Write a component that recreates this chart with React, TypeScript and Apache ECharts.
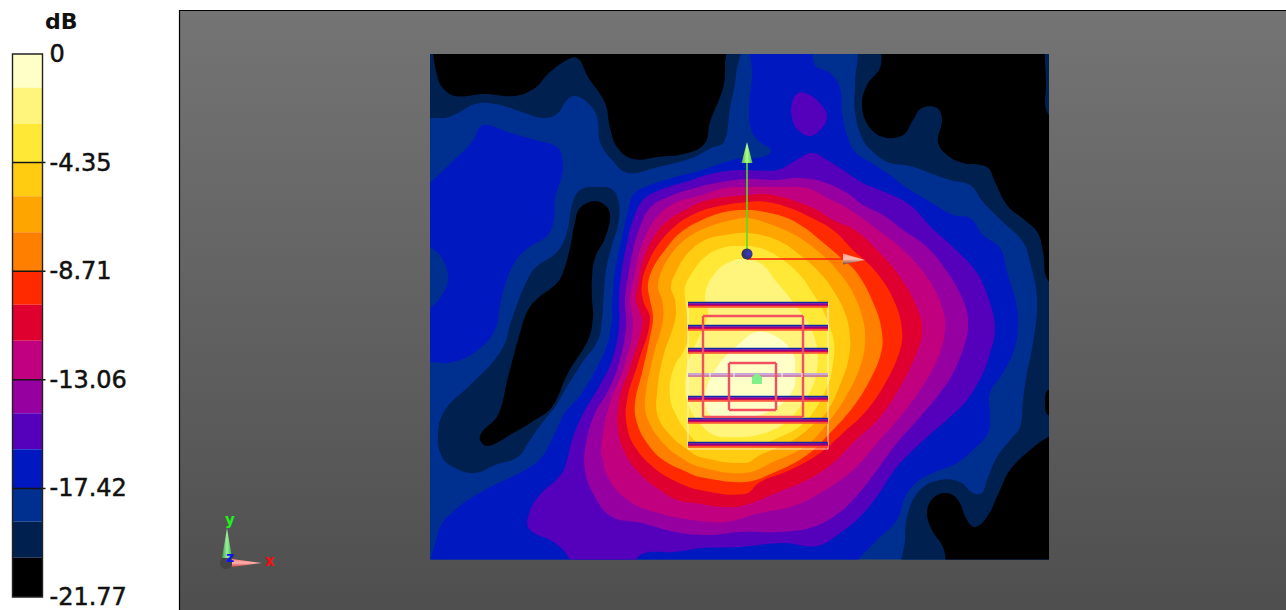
import React, { useEffect, useRef } from "react";
import * as echarts from "echarts";

type P = number[];

// colour scale, 0 dB downward
const bandColors = ["#FFFFC8", "#FFF47C", "#FFE936", "#FFCC11", "#FFA500", "#FF7F00", "#FF2A00", "#E00030", "#C0007F", "#9600A0", "#5500BB", "#0018C0", "#00308F", "#002050", "#000000"];
const bandEdges = [0, -1.35, -2.8, -4.35, -5.7, -7.15, -8.71, -10.05, -11.5, -13.06, -14.4, -15.85, -17.42, -18.75, -20.2, -21.77];
const tickValues = [0, -4.35, -8.71, -13.06, -17.42, -21.77];
const tickLabels = ["0", "-4.35", "-8.71", "-13.06", "-17.42", "-21.77"];

// contour outlines, in plane coordinates
const fullPlane: P[] = [[400, 30], [1080, 30], [1080, 590], [400, 590]];
const navyTopLeft: P[] = [[410, 35], [736, 35], [736, 75], [730, 108], [724, 142], [711, 148], [692, 158], [658, 167], [628, 173], [612, 160], [600, 142], [597, 117], [588, 103], [575, 96], [567, 100], [557, 114], [543, 118], [522, 112], [495, 104], [475, 104], [458, 113], [442, 118], [410, 111]];
const navyIsland: P[] = [[572, 205], [580, 190], [598, 187], [613, 190], [619, 205], [618, 225], [612, 245], [606, 270], [603, 305], [602, 320], [598, 340], [582, 363], [565, 390], [555, 407], [542, 423], [528, 443], [518, 457], [495, 465], [475, 473], [455, 468], [442, 457], [438, 433], [445, 410], [468, 387], [492, 363], [505, 343], [510, 325], [518, 302], [525, 285], [535, 268], [557, 252], [567, 232]];
const navyRight: P[] = [[866, 35], [857, 65], [855, 88], [855, 112], [862, 138], [873, 152], [890, 163], [910, 166], [930, 173], [950, 180], [970, 185], [983, 202], [1003, 222], [1023, 242], [1030, 262], [1037, 300], [1033, 343], [1027, 373], [1023, 400], [1020, 427], [1010, 440], [997, 457], [987, 480], [982, 493], [973, 493], [960, 482], [940, 480], [920, 490], [908, 513], [905, 540], [905, 580], [1080, 580], [1080, 35]];
const blackTopLeft: P[] = [[432, 35], [433, 53], [437, 75], [442, 87], [455, 96], [485, 94], [515, 96], [535, 88], [547, 75], [562, 63], [577, 58], [588, 77], [605, 103], [610, 128], [617, 147], [633, 159], [658, 157], [688, 153], [705, 143], [710, 122], [723, 88], [725, 65], [723, 35]];
const blackIsland: P[] = [[575, 222], [580, 208], [595, 201], [607, 207], [610, 218], [605, 238], [595, 258], [592, 278], [592, 300], [593, 317], [588, 340], [568, 373], [552, 407], [535, 420], [515, 432], [488, 446], [480, 440], [482, 432], [498, 415], [508, 377], [520, 333], [528, 310], [538, 298], [555, 285], [562, 275], [570, 248]];
const blackTopRight: P[] = [[887, 35], [880, 68], [867, 85], [862, 105], [868, 125], [883, 137], [903, 135], [913, 120], [922, 108], [937, 108], [942, 120], [938, 142], [947, 155], [963, 163], [987, 167], [995, 182], [1007, 205], [1027, 222], [1038, 233], [1043, 252], [1049, 282], [1080, 300], [1080, 35]];
const blackBottomRight: P[] = [[1080, 420], [1048, 437], [1030, 450], [1010, 470], [1000, 490], [987, 517], [975, 527], [967, 520], [958, 500], [947, 493], [933, 498], [927, 513], [932, 530], [943, 547], [953, 575], [1080, 580]];
const blackRightNotch: P[] = [[1060, 395], [1048, 390], [1045, 403], [1048, 415], [1060, 412]];
const navyRightSliver: P[] = [[1047, 35], [1046, 85], [1047, 112], [1060, 118], [1060, 35]];
const blueLeft: P[] = [[405, 205], [430, 183], [452, 162], [472, 142], [480, 127], [487, 125], [508, 132], [535, 140], [557, 147], [562, 158], [562, 175], [555, 198], [554, 218], [548, 235], [528, 248], [515, 262], [505, 285], [500, 305], [495, 330], [478, 350], [453, 362], [430, 362], [405, 362]];
const blueBump: P[] = [[410, 236], [430, 247], [442, 258], [448, 278], [442, 295], [430, 308], [410, 318]];
const blueCentral: P[] = [[633, 195], [645, 187], [672, 178], [702, 170], [740, 158], [763, 157], [771, 150], [760, 142], [752, 132], [749, 112], [752, 75], [753, 35], [808, 35], [815, 65], [830, 73], [840, 88], [842, 112], [847, 135], [855, 152], [870, 162], [887, 173], [907, 188], [927, 200], [953, 215], [970, 218], [983, 235], [1000, 248], [1007, 272], [1015, 298], [1018, 320], [1015, 347], [1003, 373], [990, 393], [990, 417], [988, 433], [973, 450], [957, 463], [933, 473], [917, 482], [905, 497], [897, 520], [877, 540], [855, 565], [850, 585], [438, 585], [438, 533], [455, 510], [485, 490], [525, 470], [542, 457], [555, 433], [565, 413], [582, 393], [597, 367], [607, 345], [612, 320], [612, 305], [615, 270], [622, 237], [628, 210]];
const violetMain: P[] = [[633, 220], [643, 200], [660, 190], [685, 182], [715, 173], [740, 170], [777, 170], [793, 162], [812, 153], [827, 160], [843, 170], [863, 183], [887, 193], [910, 205], [932, 228], [953, 247], [977, 273], [990, 303], [995, 330], [990, 353], [983, 373], [967, 400], [950, 417], [927, 437], [903, 460], [893, 472], [878, 495], [860, 517], [840, 533], [817, 546], [783, 543], [740, 547], [702, 548], [675, 552], [645, 553], [635, 562], [630, 585], [575, 585], [570, 560], [555, 543], [530, 530], [528, 517], [538, 497], [558, 478], [565, 467], [573, 437], [585, 410], [600, 385], [612, 360], [619, 327], [619, 300], [621, 275], [626, 247]];
const violetIsland: P[] = [[792, 103], [798, 93], [810, 95], [823, 107], [827, 117], [822, 128], [810, 136], [798, 130], [792, 118]];
const purpleLevel: P[] = [[633, 250], [640, 227], [650, 208], [668, 197], [695, 188], [722, 182], [748, 179], [773, 180], [800, 178], [823, 182], [847, 193], [863, 205], [883, 215], [903, 230], [927, 247], [948, 273], [963, 300], [968, 320], [965, 343], [953, 373], [940, 393], [920, 417], [897, 443], [877, 470], [860, 492], [840, 512], [813, 527], [780, 532], [740, 532], [708, 535], [675, 532], [642, 523], [612, 517], [595, 497], [585, 470], [586, 443], [595, 413], [607, 393], [618, 367], [626, 327], [625, 300], [628, 277]];
const magentaLevel: P[] = [[638, 257], [647, 233], [657, 217], [675, 203], [702, 195], [725, 188], [748, 187], [780, 187], [807, 188], [827, 198], [847, 208], [878, 230], [903, 250], [927, 277], [942, 307], [945, 330], [937, 360], [920, 390], [900, 417], [877, 443], [853, 470], [817, 495], [790, 507], [760, 513], [725, 522], [692, 520], [658, 513], [632, 503], [612, 484], [602, 457], [603, 433], [610, 403], [623, 370], [633, 327], [630, 300], [633, 283]];
const crimsonLevel: P[] = [[643, 260], [652, 240], [665, 223], [685, 210], [708, 200], [748, 195], [773, 195], [813, 208], [833, 220], [855, 230], [877, 250], [900, 277], [918, 310], [922, 333], [915, 357], [900, 387], [880, 417], [853, 443], [833, 463], [807, 480], [783, 490], [745, 505], [725, 507], [695, 503], [677, 500], [660, 490], [643, 477], [627, 457], [618, 430], [620, 397], [630, 367], [642, 323], [636, 300], [638, 285]];
const redLevel: P[] = [[648, 263], [658, 245], [673, 228], [692, 215], [715, 207], [748, 202], [767, 202], [790, 208], [812, 218], [833, 230], [853, 250], [877, 273], [895, 303], [902, 330], [900, 350], [887, 380], [867, 410], [843, 433], [820, 453], [790, 470], [760, 482], [745, 494], [700, 490], [673, 480], [653, 467], [635, 447], [627, 427], [627, 400], [638, 363], [650, 320], [643, 300], [642, 283]];
const orangeLevel: P[] = [[653, 268], [665, 250], [680, 233], [702, 220], [725, 212], [748, 210], [765, 212], [787, 218], [805, 228], [820, 240], [840, 257], [857, 273], [875, 307], [882, 333], [881, 353], [870, 380], [853, 407], [830, 433], [807, 455], [773, 473], [745, 482], [700, 477], [687, 472], [663, 460], [647, 443], [637, 423], [635, 403], [642, 373], [650, 337], [653, 317], [650, 300], [648, 285]];
const amberLevel: P[] = [[662, 270], [672, 253], [687, 238], [708, 227], [732, 220], [748, 218], [780, 228], [800, 238], [820, 253], [837, 270], [853, 293], [863, 320], [865, 343], [860, 367], [848, 393], [830, 420], [807, 445], [773, 462], [745, 473], [700, 467], [680, 457], [663, 443], [648, 420], [645, 400], [653, 357], [663, 320], [662, 300], [658, 287]];
const goldLevel: P[] = [[677, 270], [688, 253], [705, 240], [725, 235], [748, 233], [777, 240], [800, 255], [820, 273], [833, 290], [845, 313], [850, 337], [849, 357], [842, 380], [828, 410], [813, 425], [790, 442], [760, 455], [745, 463], [700, 457], [688, 450], [672, 437], [658, 417], [657, 393], [663, 357], [675, 320], [675, 300], [671, 287]];
const yellowLevel: P[] = [[692, 273], [705, 257], [722, 248], [738, 246], [760, 248], [780, 258], [800, 275], [812, 292], [820, 305], [827, 320], [834, 343], [832, 370], [827, 387], [807, 420], [780, 437], [747, 447], [700, 443], [688, 433], [677, 417], [670, 397], [673, 370], [687, 343], [687, 317], [685, 297], [685, 287]];
const paleLevel: P[] = [[705, 295], [715, 273], [732, 261], [748, 259], [763, 265], [775, 280], [793, 302], [813, 333], [817, 370], [803, 403], [773, 430], [723, 437], [703, 427], [687, 400], [687, 367], [693, 350], [708, 315]];
const palestLevel: P[] = [[757, 332], [777, 337], [793, 353], [795, 370], [793, 390], [777, 407], [747, 418], [713, 417], [705, 397], [717, 367], [740, 343]];

// painted in order, lower levels first
const contourLayers: [string, P[]][] = [
  ["#00308F", fullPlane],
  ["#002050", navyTopLeft],
  ["#002050", navyIsland],
  ["#002050", navyRight],
  ["#000000", blackTopLeft],
  ["#000000", blackIsland],
  ["#000000", blackTopRight],
  ["#000000", blackBottomRight],
  ["#000000", blackRightNotch],
  ["#002050", navyRightSliver],
  ["#0018C0", blueLeft],
  ["#00308F", blueBump],
  ["#0018C0", blueCentral],
  ["#5500BB", violetMain],
  ["#5500BB", violetIsland],
  ["#9600A0", purpleLevel],
  ["#C0007F", magentaLevel],
  ["#E00030", crimsonLevel],
  ["#FF2A00", redLevel],
  ["#FF7F00", orangeLevel],
  ["#FFA500", amberLevel],
  ["#FFCC11", goldLevel],
  ["#FFE936", yellowLevel],
  ["#FFF47C", paleLevel],
  ["#FFFFC8", palestLevel],
];

// antenna overlay
const rowYs = [305, 328, 351, 399, 421, 445];
const lightRowY = 375;
const rowXs = [688, 828];
const rowStripes: [number, string, number][] = [[-2.4, "#0A2CA8", 1.8], [-0.9, "#7A00A0", 1.6], [0.6, "#D00850", 1.6], [2, "#FF5030", 1.3]];
const outerPatch = [703, 316, 803, 417];
const innerPatch = [729, 363, 776, 410];
const groundFrame = [688, 303, 828, 449];
const lightRowTicks = [710, 734, 782, 802];
const feedPoint = [757, 379];
const origin = [747, 254];
const yArrow = { tip: [747, 142], base: 163, half: 5.5 };
const xArrow = { tip: [865, 260], base: 843, half: 5.5, y: 259 };

export default function App() {
  const ref = useRef<HTMLDivElement>(null);
  useEffect(() => {
    const chart = echarts.init(ref.current!, undefined, { renderer: "svg" });

    const planeSeries = (renderItem: any, clip = false) => ({
      type: "custom" as const,
      xAxisIndex: 0,
      yAxisIndex: 0,
      coordinateSystem: "cartesian2d",
      silent: true,
      clip,
      data: [[origin[0], origin[1]]],
      renderItem,
    });
    const seg = (api: any, a: P, b: P, stroke: string, lineWidth: number, opacity = 1) => {
      const p = api.coord(a);
      const q = api.coord(b);
      return { type: "line", shape: { x1: p[0], y1: p[1], x2: q[0], y2: q[1] }, style: { stroke, lineWidth, opacity } };
    };
    const rectOutline = (api: any, r: number[], stroke: string, lineWidth: number, opacity = 1) => ({
      type: "group",
      children: [
        seg(api, [r[0], r[1]], [r[2], r[1]], stroke, lineWidth, opacity),
        seg(api, [r[2], r[1]], [r[2], r[3]], stroke, lineWidth, opacity),
        seg(api, [r[2], r[3]], [r[0], r[3]], stroke, lineWidth, opacity),
        seg(api, [r[0], r[3]], [r[0], r[1]], stroke, lineWidth, opacity),
      ],
    });

    const contourSeries = contourLayers.map(([color, pts]) =>
      planeSeries(
        (_: any, api: any) => ({
          type: "polygon",
          shape: { points: pts.map((p) => api.coord(p)), smooth: 0.4 },
          style: { fill: color },
        }),
        true
      )
    );

    const overlaySeries = planeSeries((_: any, api: any) => {
      const children: any[] = [];
      children.push(rectOutline(api, groundFrame, "#FFF6E0", 1.2, 0.8));
      rowYs.forEach((y) => {
        rowStripes.forEach(([dy, color, w]) => {
          children.push(seg(api, [rowXs[0], y + dy], [rowXs[1], y + dy], color, w));
        });
      });
      children.push(seg(api, [rowXs[0], lightRowY - 1], [rowXs[1], lightRowY - 1], "#C8A8D8", 2));
      children.push(seg(api, [rowXs[0], lightRowY + 1], [rowXs[1], lightRowY + 1], "#C060A8", 1.5));
      children.push(rectOutline(api, outerPatch, "#F25060", 2.4));
      children.push(rectOutline(api, innerPatch, "#F25060", 2.4));
      lightRowTicks.forEach((x) => children.push(seg(api, [x, lightRowY - 2], [x, lightRowY + 2], "#FFF8F0", 1)));
      const f = feedPoint;
      children.push({
        type: "polygon",
        shape: { points: [[f[0] - 5, f[1] + 5], [f[0] - 5, f[1] - 2], [f[0], f[1] - 6], [f[0] + 5, f[1] - 2], [f[0] + 5, f[1] + 5]].map((p) => api.coord(p)) },
        style: { fill: "#80F088" },
      });
      // origin arrows
      children.push(seg(api, [origin[0], origin[1]], [origin[0], yArrow.base], "#50E020", 1.6));
      children.push(seg(api, [origin[0], xArrow.y], [xArrow.base, xArrow.y], "#FF2010", 1.6));
      children.push({
        type: "polygon",
        shape: { points: [yArrow.tip, [yArrow.tip[0] - yArrow.half, yArrow.base], [yArrow.tip[0] + yArrow.half, yArrow.base]].map((p) => api.coord(p)) },
        style: { fill: new echarts.graphic.LinearGradient(0, 0, 1, 0, [{ offset: 0, color: "#50B030" }, { offset: 0.5, color: "#B0FF90" }, { offset: 1, color: "#40C040" }]) },
      });
      children.push({
        type: "polygon",
        shape: { points: [xArrow.tip, [xArrow.base, xArrow.y + xArrow.half], [xArrow.base, xArrow.y - xArrow.half]].map((p) => api.coord(p)) },
        style: { fill: new echarts.graphic.LinearGradient(0, 0, 0, 1, [{ offset: 0, color: "#FFA090" }, { offset: 0.5, color: "#FFC0B0" }, { offset: 1, color: "#804030" }]) },
      });
      const o = api.coord(origin);
      children.push({ type: "circle", shape: { cx: o[0], cy: o[1], r: 5.5 }, style: { fill: new echarts.graphic.RadialGradient(0.65, 0.45, 0.7, [{ offset: 0, color: "#3838D0" }, { offset: 1, color: "#303040" }]) } });
      return { type: "group", children };
    });

    const legendBands = {
      type: "custom" as const,
      xAxisIndex: 1,
      yAxisIndex: 1,
      coordinateSystem: "cartesian2d",
      silent: true,
      data: bandColors.map((c, i) => [0, bandEdges[i], bandEdges[i + 1], i]),
      encode: { x: 0, y: [1, 2] },
      renderItem: (_: any, api: any) => {
        const a = api.coord([0, api.value(1)]);
        const b = api.coord([1, api.value(2)]);
        return { type: "rect", shape: { x: a[0], y: a[1], width: b[0] - a[0], height: b[1] - a[1] }, style: { fill: bandColors[api.value(3)] } };
      },
    };
    const legendTicks = {
      type: "custom" as const,
      xAxisIndex: 1,
      yAxisIndex: 1,
      coordinateSystem: "cartesian2d",
      silent: true,
      data: tickValues.slice(1, 5).map((v) => [0, v]),
      renderItem: (_: any, api: any) => {
        const a = api.coord([0, api.value(1)]);
        const b = api.coord([1, api.value(1)]);
        return { type: "line", shape: { x1: a[0], y1: a[1], x2: b[0] + 3, y2: b[1] }, style: { stroke: "#151515", lineWidth: 1.4 } };
      },
    };
    const legendFrame = {
      type: "custom" as const,
      xAxisIndex: 1,
      yAxisIndex: 1,
      coordinateSystem: "cartesian2d",
      silent: true,
      data: [[0, 0]],
      renderItem: (_: any, api: any) => {
        const a = api.coord([0, 0]);
        const b = api.coord([1, -21.77]);
        return { type: "rect", shape: { x: a[0], y: a[1], width: b[0] - a[0], height: b[1] - a[1] }, style: { fill: "none", stroke: "#222", lineWidth: 1.4 } };
      },
    };

    chart.setOption({
      animation: false,
      backgroundColor: "#ffffff",
      grid: [
        { left: 430, top: 54, width: 619, height: 505.5 },
        { left: 12.5, top: 54, width: 30, height: 543 },
      ],
      xAxis: [
        { type: "value", gridIndex: 0, min: 430, max: 1049, show: false },
        { type: "value", gridIndex: 1, min: 0, max: 1, show: false },
      ],
      yAxis: [
        { type: "value", gridIndex: 0, min: 54, max: 559.5, inverse: true, show: false },
        {
          type: "value",
          gridIndex: 1,
          min: -21.77,
          max: 0,
          position: "right",
          axisLine: { show: false },
          splitLine: { show: false },
          axisTick: { show: false },
          axisLabel: {
            customValues: tickValues,
            margin: 7,
            color: "#111",
            fontFamily: "DejaVu Sans",
            fontSize: 24,
            textBorderColor: "#111",
            textBorderWidth: 0.5,
            formatter: (v: number) => tickLabels[tickValues.indexOf(v)] ?? String(v),
          },
        },
      ],
      graphic: [
        {
          type: "rect",
          z: -10,
          shape: { x: 179.5, y: 10.5, width: 1120, height: 610 },
          style: {
            fill: new echarts.graphic.LinearGradient(0, 0, 0, 1, [{ offset: 0, color: "#747474" }, { offset: 1, color: "#4E4E4E" }]),
            stroke: "#000",
            lineWidth: 1.2,
          },
        },
        { type: "text", x: 45, y: 10, style: { text: "dB", fill: "#111", font: "bold 22px 'DejaVu Sans'" } },
        { type: "circle", shape: { cx: 226, cy: 563, r: 6 }, style: { fill: "#444" } },
        {
          type: "polygon",
          shape: { points: [[227, 528], [222, 558], [232, 558]] },
          style: { fill: new echarts.graphic.LinearGradient(0, 0, 1, 0, [{ offset: 0, color: "#30A040" }, { offset: 0.5, color: "#A0F0A0" }, { offset: 1, color: "#30B040" }]) },
        },
        {
          type: "polygon",
          shape: { points: [[262, 563], [232, 559], [232, 567]] },
          style: { fill: new echarts.graphic.LinearGradient(0, 0, 0, 1, [{ offset: 0, color: "#FF8080" }, { offset: 0.5, color: "#FFB0A8" }, { offset: 1, color: "#C04040" }]) },
        },
        { type: "text", x: 225, y: 512, style: { text: "y", fill: "#20F020", font: "bold 15px 'DejaVu Sans'" } },
        { type: "text", x: 265, y: 553, style: { text: "x", fill: "#F01010", font: "bold 15px 'DejaVu Sans'" } },
        { type: "text", x: 226, y: 550, style: { text: "z", fill: "#1010F0", font: "bold 14px 'DejaVu Sans'" } },
      ],
      series: [...contourSeries, overlaySeries, legendBands, legendTicks, legendFrame],
    });
    return () => chart.dispose();
  }, []);
  return <div ref={ref} style={{ position: "absolute", left: 0, top: 0, width: 1286, height: 610 }} />;
}
